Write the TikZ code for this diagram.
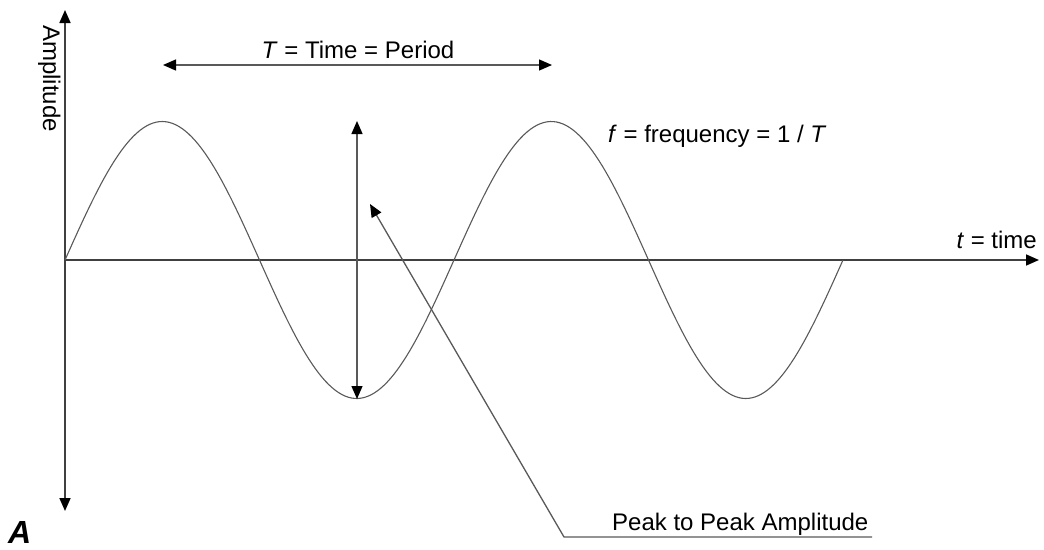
\documentclass[tikz,border=0pt]{standalone}
\usepackage{fontspec}
\setmainfont{Liberation Sans}
\usetikzlibrary{arrows.meta}
\begin{document}
\begin{tikzpicture}[x=1pt,y=-1pt,
  axis/.style={draw=black!75, line width=1.7pt},
  wave/.style={draw=black!65, line width=1.1pt},
  arr/.style={draw=black!65, line width=1.3pt},
  tip/.style={-{Triangle[length=13pt,width=11pt,color=black]}},
  tips/.style={{Triangle[length=13pt,width=11pt,color=black]}-{Triangle[length=13pt,width=11pt,color=black]}},
  lbl/.style={font=\fontsize{24}{28}\selectfont, inner sep=0pt, anchor=base}]
\useasboundingbox (0,0) rectangle (1044,549);
% coordinates
\coordinate (O) at (65,260);
\coordinate (Ytop) at (65,10);
\coordinate (Ybot) at (65,511);
\coordinate (Xend) at (1039,260);
\coordinate (T1) at (163,65);
\coordinate (T2) at (552,65);
\coordinate (P1) at (357,121);
\coordinate (P2) at (357,399);
\coordinate (Ptip) at (370,204);
\coordinate (Pcorner) at (564,537);
\coordinate (Pend) at (872,537);
% axes
\draw[axis, tip] (O) -- (Ytop);
\draw[axis, tip] (O) -- (Ybot);
\draw[axis, tip] (O) -- (Xend);
% wave
\draw[wave] plot[domain=0:720, samples=240] ({\x*1.080556+65}, {260 - 138.5*sin(\x)});
% arrows
\draw[arr, tips] (T1) -- (T2);
\draw[arr, tips] (P1) -- (P2);
\draw[arr, tip] (Pend) -- (Pcorner) -- (Ptip);
% labels
\node[lbl] (tlbl) at (358,58) {\textit{T} = Time = Period};
\node[lbl, anchor=base west] (flbl) at (608,142) {\textit{f} = frequency = 1 /~\textit{T}};
\node[lbl, anchor=base east] (xlbl) at (1037,248) {\textit{t} = time};
\node[lbl, anchor=base west] (plbl) at (612,530) {Peak to Peak Amplitude};
\node[lbl, anchor=base west, rotate=-90] (ylbl) at (43,25) {Amplitude};
\node[font=\fontsize{32}{34}\selectfont\bfseries\itshape, inner sep=0pt, anchor=base west] (alab) at (8,543) {A};
\end{tikzpicture}
\end{document}
